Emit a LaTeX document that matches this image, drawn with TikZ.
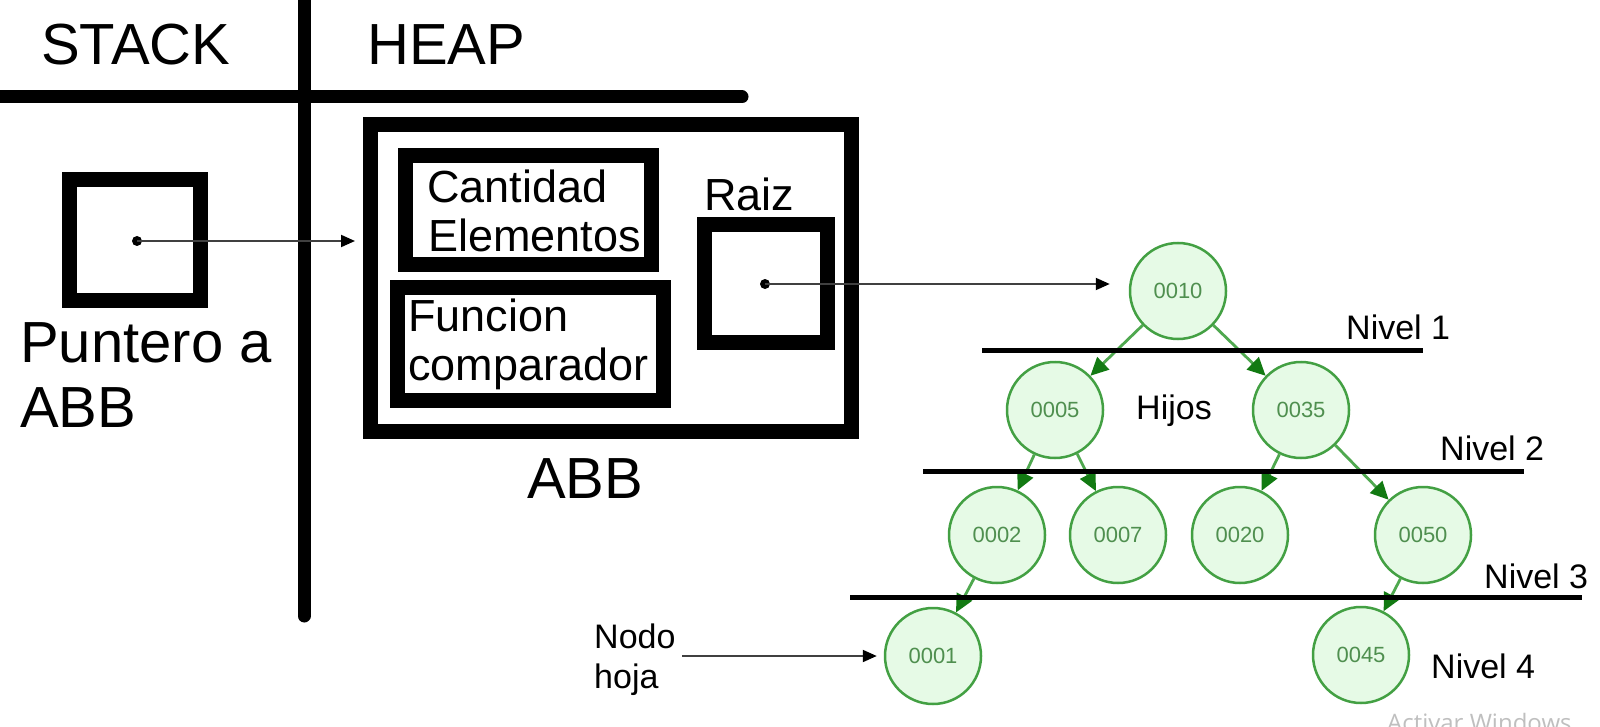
\documentclass[tikz,border=0pt]{standalone}
\usepackage{fontspec}
\setmainfont{Liberation Sans}
\newfontfamily\wmfont{Open Sans}
\usetikzlibrary{arrows.meta}
\definecolor{nodefill}{HTML}{E6FAE6}
\definecolor{nodeborder}{HTML}{43A043}
\definecolor{edgegreen}{HTML}{4FA84F}
\definecolor{arrowgreen}{HTML}{127A12}
\definecolor{nodetext}{HTML}{4F8F4F}
\tikzset{
  thickbox/.style={draw=black, line width=15pt, inner sep=0pt, rectangle},
  bigtxt/.style={inner sep=0pt, anchor=base west, font=\fontsize{58}{58}\selectfont},
  midtxt/.style={inner sep=0pt, anchor=base west, font=\fontsize{45}{45}\selectfont},
  smalltxt/.style={inner sep=0pt, anchor=base west, font=\fontsize{34}{34}\selectfont},
  tnode/.style={circle, draw=nodeborder, fill=nodefill, line width=2.5pt, minimum size=96pt,
    inner sep=0pt, text=nodetext, font=\fontsize{22}{22}\selectfont},
  tedge/.style={draw=edgegreen, line width=2.8pt,
    -{Triangle[length=18pt,width=17pt,fill=arrowgreen,color=arrowgreen]}},
  levelline/.style={draw=black, line width=5pt},
  bar/.style={draw=black, line width=13pt, line cap=round},
  ptr/.style={draw=black!75, line width=2pt, -{Triangle[length=14pt,width=12pt,fill=black,color=black]}}
}
\begin{document}
\begin{tikzpicture}[x=1pt,y=-1pt]
\useasboundingbox (0,0) rectangle (1600,727);
\clip (0,0) rectangle (1600,727);
\fill[white] (0,0) rectangle (1600,727);

% separator bars
\coordinate (hb1) at (-20,97);
\coordinate (hb2) at (742,97);
\coordinate (vb1) at (304,-20);
\coordinate (vb2) at (304,616);
\draw[bar] (hb1) -- (hb2);
\draw[bar] (vb1) -- (vb2);

\node[bigtxt] (stack) at (41,65) {STACK};
\node[bigtxt] (heap) at (367,65) {HEAP};

% stack box
\node[thickbox, minimum width=131pt, minimum height=120pt] (sbox) at (134.5,240) {};
\node[bigtxt] (punt) at (20,362) {Puntero a};
\node[bigtxt] (abbl) at (20,427) {ABB};

% ABB structure
\node[thickbox, minimum width=481pt, minimum height=306pt] (abb) at (610.5,278) {};
\node[bigtxt] (abbname) at (527,498) {ABB};
\node[thickbox, minimum width=246pt, minimum height=109pt] (cant) at (528,210.5) {};
\node[midtxt] (cant1) at (427,203) {Cantidad};
\node[midtxt] (cant2) at (428,252) {Elementos};
\node[thickbox, minimum width=266pt, minimum height=113pt] (func) at (530,343.5) {};
\node[midtxt] (func1) at (408,331) {Funcion};
\node[midtxt] (func2) at (408,380) {comparador};
\node[midtxt] (raizl) at (704,211) {Raiz};
\node[thickbox, minimum width=123pt, minimum height=117pt] (raiz) at (765.5,283.5) {};

% pointers
\coordinate (sdot) at (137,241);
\fill (sdot) circle (5pt);
\draw[ptr, shorten >=7.5pt] (sdot) -- (sdot -| abb.west);

% tree nodes
\node[tnode] (n0010) at (1178,291) {0010};
\node[tnode] (n0005) at (1055,410) {0005};
\node[tnode] (n0035) at (1301,410) {0035};
\node[tnode] (n0002) at (997,535) {0002};
\node[tnode] (n0007) at (1118,535) {0007};
\node[tnode] (n0020) at (1240,535) {0020};
\node[tnode] (n0050) at (1423,535) {0050};
\node[tnode] (n0001) at (933,656) {0001};
\node[tnode] (n0045) at (1361,655) {0045};

\coordinate (rdot) at (765,284);
\fill (rdot) circle (5pt);
\draw[ptr, shorten >=19pt] (rdot) -- (rdot -| n0010.west);

% tree edges
\draw[tedge] (n0010) -- (n0005);
\draw[tedge] (n0010) -- (n0035);
\draw[tedge] (n0005) -- (n0002);
\draw[tedge] (n0005) -- (n0007);
\draw[tedge] (n0035) -- (n0020);
\draw[tedge] (n0035) -- (n0050);
\draw[tedge] (n0002) -- (n0001);
\draw[tedge] (n0050) -- (n0045);

% level lines
\coordinate (l1a) at (982,350);  \coordinate (l1b) at (1423,350);
\coordinate (l2a) at (923,471);  \coordinate (l2b) at (1524,471);
\coordinate (l3a) at (850,597);  \coordinate (l3b) at (1582,597);
\draw[levelline] (l1a) -- (l1b);
\draw[levelline] (l2a) -- (l2b);
\draw[levelline] (l3a) -- (l3b);

\node[smalltxt] (niv1) at (1346,339) {Nivel 1};
\node[smalltxt] (niv2) at (1440,460) {Nivel 2};
\node[smalltxt] (niv3) at (1484,588) {Nivel 3};
\node[smalltxt] (niv4) at (1431,678) {Nivel 4};
\node[smalltxt] (hijos) at (1136,419) {Hijos};
\node[smalltxt] (nodo) at (594,648) {Nodo};
\node[smalltxt] (hoja) at (594,688) {hoja};

\coordinate (ha) at (682,656);
\draw[ptr, shorten >=7pt] (ha) -- (ha -| n0001.west);

% watermark (cut off at the lower edge, as in the reference)
\node[inner sep=0pt, anchor=base west, text=black!25, font=\wmfont\fontsize{24}{24}\selectfont] (wm) at (1387,731) {Activar Windows};
\end{tikzpicture}
\end{document}
